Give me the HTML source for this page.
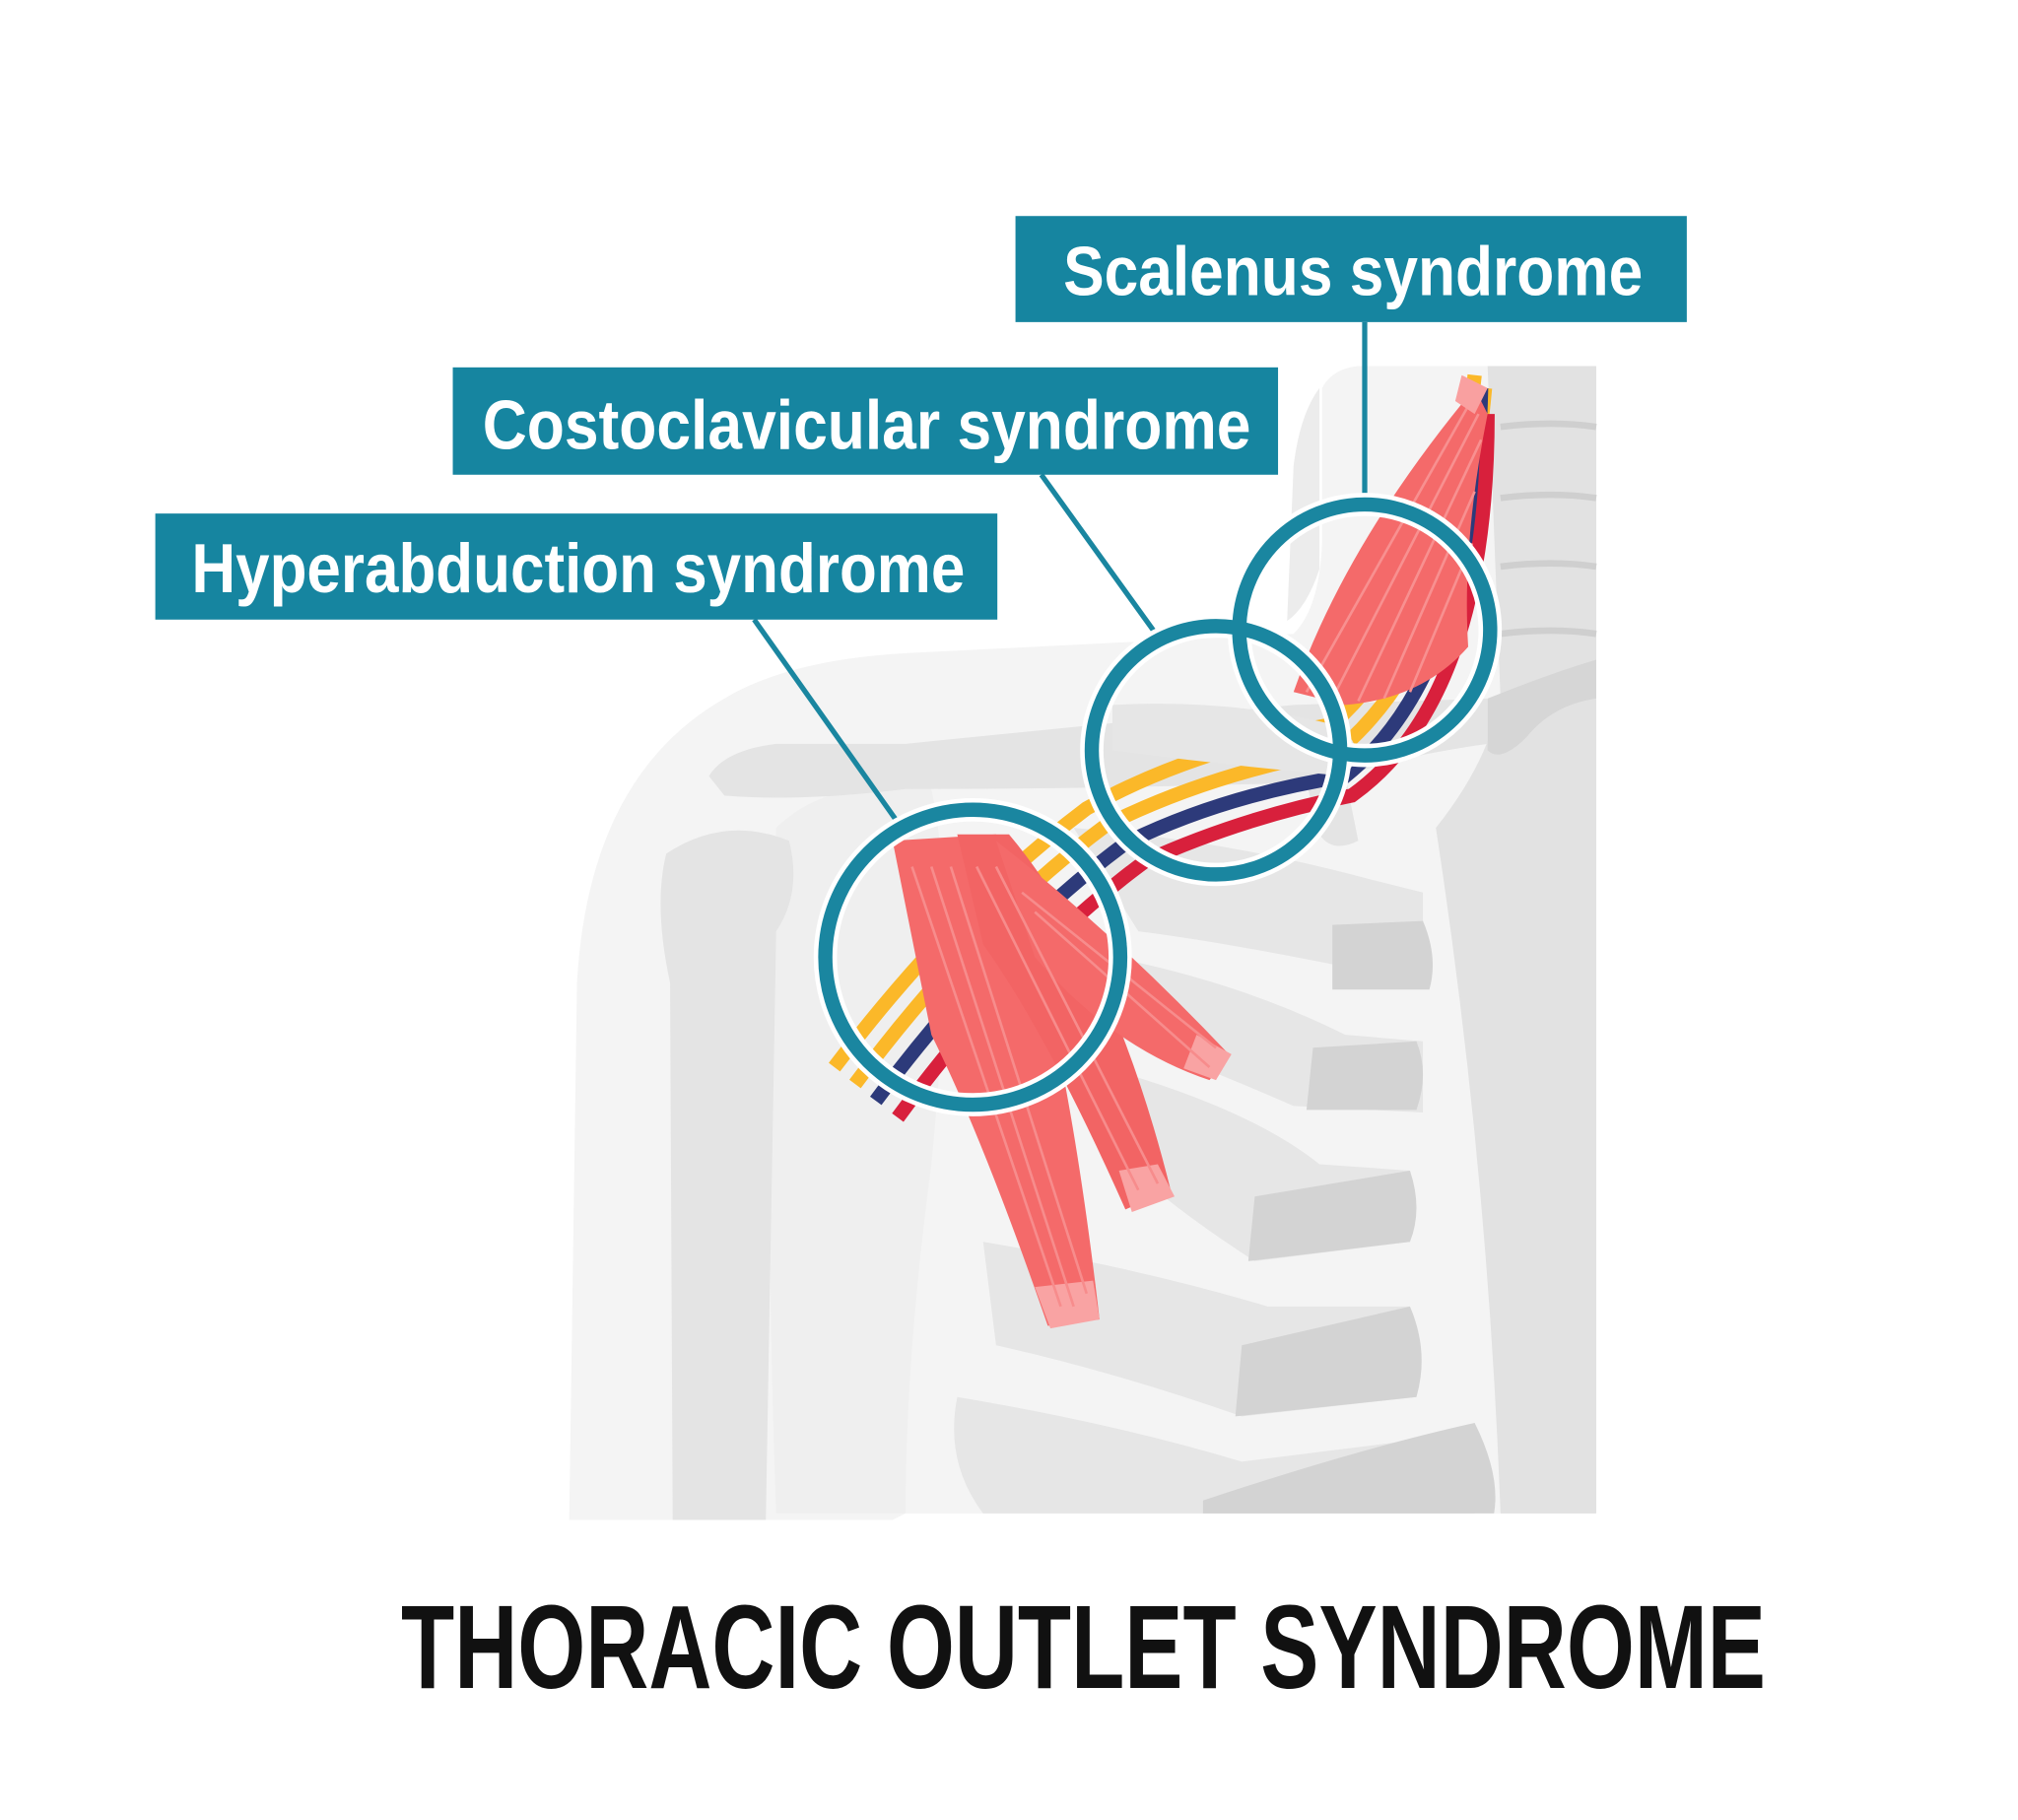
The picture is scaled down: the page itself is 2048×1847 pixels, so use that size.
<!DOCTYPE html>
<html><head><meta charset="utf-8"><style>
html,body{margin:0;padding:0;background:#fff;}
svg{display:block;}
text{font-family:"Liberation Sans",sans-serif;}
</style></head><body>
<svg width="2048" height="1847" viewBox="0 0 1560 1407" xmlns="http://www.w3.org/2000/svg">
<rect width="1560" height="1407" fill="#fff"/>
<path d="M440,1175 L446,760 Q455,600 560,540 Q610,510 700,505 L1000,490 Q1020,470 1022,420 L1022,300 Q1030,285 1050,283 L1234,283 L1234,1170 L700,1170 L690,1175 Z" fill="#f4f4f4"/>
<path d="M1020,300 Q1005,320 1000,360 L995,480 Q1010,470 1020,440 Z" fill="#ececec"/>
<path d="M1150,283 L1234,283 L1234,1170 L1160,1170 Q1150,900 1110,640 Q1150,590 1160,540 Z" fill="#e2e2e2"/>
<g fill="none" stroke="#cfcfcf" stroke-width="5">
<path d="M1160,330 Q1200,325 1234,330"/><path d="M1160,385 Q1200,380 1234,385"/><path d="M1160,438 Q1200,433 1234,438"/><path d="M1160,490 Q1200,485 1234,490"/>
</g>
<path d="M600,640 Q640,600 720,610 Q740,700 720,900 Q700,1050 700,1170 L600,1170 Q590,900 600,640 Z" fill="#efefef"/>
<path d="M515,660 Q560,630 610,650 Q620,690 600,720 L592,1175 L520,1175 L518,760 Q505,700 515,660 Z" fill="#e4e4e4"/>
<g fill="#e6e6e6">
<path d="M830,640 Q950,650 1060,680 L1100,690 L1100,760 Q960,730 880,720 Z"/>
<path d="M860,740 Q960,760 1040,800 L1100,805 L1100,860 L1000,855 Q920,820 860,800 Z"/>
<path d="M870,830 Q970,860 1020,900 L1090,905 L1090,960 L970,975 Q900,930 860,890 Z"/>
<path d="M760,960 Q880,980 980,1010 L1090,1010 L1095,1080 L960,1095 Q860,1060 770,1040 Z"/>
<path d="M740,1080 Q860,1100 960,1130 L1120,1110 L1140,1170 L760,1170 Q730,1130 740,1080 Z"/>
</g>
<g fill="#d3d3d3">
<path d="M1030,715 L1100,712 Q1112,740 1105,765 L1030,765 Z"/>
<path d="M1015,810 L1095,805 Q1105,830 1095,858 L1010,858 Z"/>
<path d="M970,925 L1090,905 Q1100,935 1090,960 L965,975 Z"/>
<path d="M960,1040 L1090,1010 Q1105,1045 1095,1080 L955,1095 Z"/>
<path d="M930,1160 Q1050,1120 1140,1100 Q1160,1140 1155,1170 L930,1170 Z"/>
</g>
<path d="M548,600 Q560,580 600,575 L700,575 Q850,560 1000,545 L1150,540 L1150,575 Q1080,585 1040,600 L1050,650 Q1030,660 1020,645 L1010,605 Q850,610 700,610 Q620,620 560,615 Z" fill="#e4e4e4"/>
<path d="M1150,540 Q1200,520 1234,510 L1234,540 Q1200,545 1180,570 Q1160,590 1150,580 Z" fill="#d6d6d6"/>
<g fill="none" stroke-width="11">
<path d="M645,825 Q740,700 840,625 Q920,580 1030,560 Q1120,480 1140,290" stroke="#fbb829"/>
<path d="M661,838 Q755,712 855,638 Q935,598 1035,580 Q1130,500 1148,300" stroke="#fbb829"/>
<path d="M677,851 Q770,726 870,652 Q945,615 1040,600 Q1140,520 1145,300" stroke="#2d3a7a"/>
<path d="M694,864 Q785,740 885,666 Q960,632 1045,615 Q1150,540 1150,320" stroke="#d8203c"/>
</g>
<path d="M860,545 Q950,540 1030,560 Q1060,575 1040,600 Q950,592 860,580 Z" fill="#e6e6e6"/>
<path d="M1000,535 Q1040,420 1140,300 L1150,320 Q1130,420 1135,500 Q1100,540 1040,545 Z" fill="#f46a6a"/>
<g stroke="#f89090" stroke-width="2" fill="none">
<path d="M1010,535 L1140,305"/><path d="M1030,540 L1143,320"/><path d="M1050,542 L1145,340"/><path d="M1070,540 L1140,380"/><path d="M1090,535 L1138,420"/>
</g>
<path d="M1130,290 L1150,300 L1140,320 L1125,310 Z" fill="#f9a0a0"/>
<path d="M690,650 L770,645 Q820,760 850,1020 L810,1025 Q760,880 720,800 Z" fill="#f46a6a"/>
<path d="M740,645 L780,645 Q860,740 905,920 L870,935 Q810,800 760,730 Z" fill="#f26464"/>
<path d="M770,650 Q860,720 950,815 L935,835 Q860,810 800,740 Z" fill="#f46a6a"/>
<g fill="#f9a3a3"><path d="M800,995 L845,990 L850,1020 L812,1027 Z"/><path d="M865,905 L895,900 L908,925 L875,937 Z"/><path d="M925,800 L952,815 L940,835 L915,826 Z"/></g>
<g stroke="#f78c8c" stroke-width="2" fill="none">
<path d="M705,670 L820,1010"/><path d="M720,670 L830,1010"/><path d="M735,670 L840,1000"/><path d="M755,670 L880,920"/><path d="M770,670 L895,915"/><path d="M790,690 L940,810"/><path d="M800,705 L935,825"/>
</g>
<g stroke="#1a86a0" stroke-width="4" fill="none">
<line x1="1055" y1="249" x2="1055" y2="390"/>
<line x1="805" y1="367" x2="895" y2="492"/>
<line x1="583" y1="479" x2="697" y2="640"/>
</g>
<g fill="none">
<circle cx="1055" cy="487" r="97" stroke="#fff" stroke-width="18"/>
<circle cx="940" cy="580" r="96" stroke="#fff" stroke-width="18"/>
<circle cx="752" cy="740" r="114" stroke="#fff" stroke-width="18"/>
<circle cx="1055" cy="487" r="97" stroke="#1a86a0" stroke-width="11"/>
<circle cx="940" cy="580" r="96" stroke="#1a86a0" stroke-width="11"/>
<circle cx="752" cy="740" r="114" stroke="#1a86a0" stroke-width="11"/>
</g>
<rect x="785" y="167" width="519" height="82" fill="#1685a0"/>
<rect x="350" y="284" width="638" height="83" fill="#1685a0"/>
<rect x="120" y="397" width="651" height="82" fill="#1685a0"/>
<g fill="#fff" font-size="54" font-weight="bold">
<text x="822" y="228" textLength="448" lengthAdjust="spacingAndGlyphs">Scalenus syndrome</text>
<text x="373" y="347" textLength="594" lengthAdjust="spacingAndGlyphs">Costoclavicular syndrome</text>
<text x="148" y="458" textLength="598" lengthAdjust="spacingAndGlyphs">Hyperabduction syndrome</text>
</g>
<text x="310" y="1305" font-size="92" font-weight="bold" fill="#111" textLength="1055" lengthAdjust="spacingAndGlyphs">THORACIC OUTLET SYNDROME</text>
</svg>
</body></html>
